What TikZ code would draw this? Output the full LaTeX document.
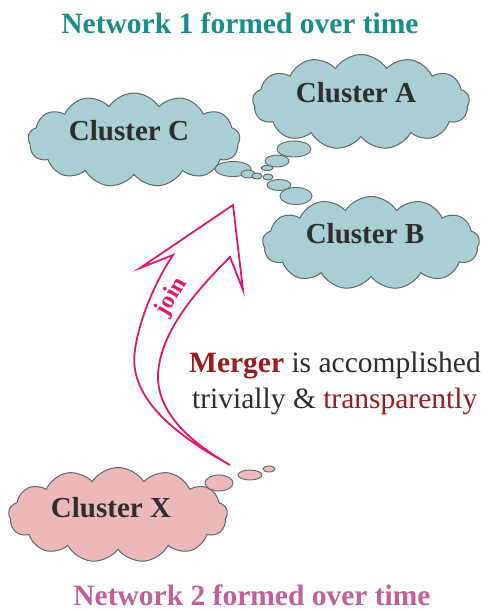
\documentclass[tikz,border=0pt]{standalone}
\usepackage{fontspec}
\setmainfont{Liberation Serif}
\usetikzlibrary{shapes.symbols}
\definecolor{cloudblue}{HTML}{A9CED4}
\definecolor{cloudpink}{HTML}{EDB9B8}
\definecolor{cloudline}{HTML}{5C686B}
\definecolor{tealtitle}{HTML}{1A8C8A}
\definecolor{pinktitle}{HTML}{C2609E}
\definecolor{arrowpink}{HTML}{E2186E}
\definecolor{darkred}{HTML}{9A1C1E}
\definecolor{textgray}{HTML}{2E2E2E}
\tikzset{
  cl/.style={cloud, cloud puffs=13, cloud puff arc=115, aspect=2.3, draw=cloudline, line width=1pt, inner sep=0pt},
  blue cloud/.style={cl, fill=cloudblue},
  pink cloud/.style={cl, fill=cloudpink},
  bub/.style={draw=cloudline, line width=0.9pt},
  big/.style={font=\fontsize{29.5}{31}\selectfont},
  clab/.style={font=\fontsize{29}{31}\selectfont\bfseries, text=textgray, anchor=base},
  inarc/.style={draw=cloudline, line width=0.8pt},
}
\begin{document}
\begin{tikzpicture}[x=1pt,y=-1pt]
\useasboundingbox (0,0) rectangle (488,611);
\fill[white] (0,0) rectangle (488,611);
% clouds
\node[blue cloud, minimum width=212pt, minimum height=94pt] (cc) at (134,140) {};
\node[blue cloud, minimum width=217pt, minimum height=95pt] (ca) at (361,102) {};
\node[blue cloud, minimum width=217pt, minimum height=93pt] (cb) at (371,243) {};
\node[pink cloud, minimum width=219pt, minimum height=95pt] (cx) at (118,515) {};
% bubbles
\filldraw[bub, fill=cloudblue] (233,169) ellipse (18 and 7.5);
\filldraw[bub, fill=cloudblue] (248,174) ellipse (7 and 4);
\filldraw[bub, fill=cloudblue] (257,176) ellipse (5 and 3);
\filldraw[bub, fill=cloudblue] (268,177) ellipse (5 and 3);
\filldraw[bub, fill=cloudblue] (294,149) ellipse (17 and 8);
\filldraw[bub, fill=cloudblue] (277,161) ellipse (12 and 6);
\filldraw[bub, fill=cloudblue] (267,168) ellipse (6 and 2.5);
\filldraw[bub, fill=cloudblue] (279,185) ellipse (12 and 5.5);
\filldraw[bub, fill=cloudblue] (296,196) ellipse (16 and 8.5);
\filldraw[bub, fill=cloudpink] (219,483) ellipse (14 and 8);
\filldraw[bub, fill=cloudpink] (250,475) ellipse (12 and 5);
\filldraw[bub, fill=cloudpink] (269,469) ellipse (6 and 3);
% labels
\node[clab] (lc) at (129,140) {Cluster C};
\node[clab] (la) at (356,102) {Cluster A};
\node[clab] (lb) at (365,243) {Cluster B};
\node[clab] (lx) at (111,517) {Cluster X};
% titles
\node[anchor=base, font=\fontsize{29.5}{31}\selectfont\bfseries, text=tealtitle] (t1) at (240,33) {Network 1 formed over time};
\node[anchor=base, font=\fontsize{29.5}{31}\selectfont\bfseries, text=pinktitle] (t2) at (252,605) {Network 2 formed over time};
% merger text
\node[anchor=base west, inner sep=0pt, big, text=textgray] (m1) at (189,372) {\textcolor{darkred}{\bfseries Merger} is accomplished};
\node[anchor=base west, inner sep=0pt, big, text=textgray] (m2) at (192,408) {trivially \& \textcolor{darkred}{transparently}};
% arrow
\draw[arrowpink, line width=1.8pt, fill=white, line join=miter]
  (230,465) .. controls (170,432) and (128,395) .. (135,350)
  .. controls (139,320) and (155,282) .. (173,255)
  -- (140,268) -- (233,205) -- (243,290) -- (230,257)
  .. controls (200,287) and (160,330) .. (158,375)
  .. controls (157,415) and (195,445) .. (230,465) -- cycle;
\node[rotate=60, text=arrowpink, inner sep=0pt, font=\fontsize{24}{26}\selectfont\bfseries] (jn) at (172,297) {join};
\end{tikzpicture}
\end{document}
